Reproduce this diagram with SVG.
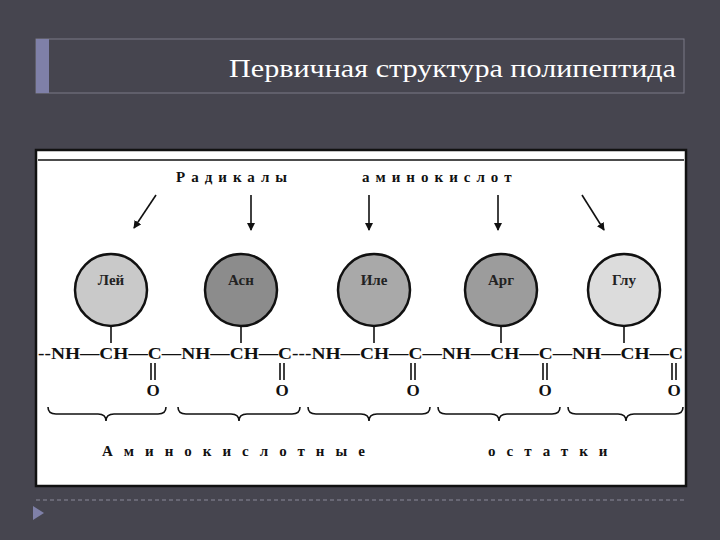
<svg xmlns="http://www.w3.org/2000/svg" width="720" height="540" viewBox="0 0 720 540">
<defs>
<marker id="ah" markerWidth="8" markerHeight="8" refX="7" refY="4" orient="auto" markerUnits="userSpaceOnUse"><path d="M0,0 L8,4 L0,8 Z" fill="#111"/></marker>
<style>
.t{font-family:"Liberation Serif",serif;font-weight:bold;fill:#111}
.c{stroke:#111;stroke-width:2.5}
.ln{stroke:#111;stroke-width:1.6;fill:none}
.lbl{font-family:"Liberation Serif",serif;font-weight:bold;font-size:15px;fill:#222;text-anchor:middle}
</style>
</defs>
<rect width="720" height="540" fill="#46454f"/>
<rect x="36" y="39" width="648" height="54" fill="none" stroke="#7a7a88" stroke-width="1"/>
<rect x="36" y="39" width="13" height="54" fill="#7f80a8"/>
<text x="676" y="77" text-anchor="end" font-family="Liberation Serif,serif" font-size="25" fill="#fff" textLength="447" lengthAdjust="spacingAndGlyphs">Первичная структура полипептида</text>
<rect x="36" y="150" width="650" height="336" fill="#fff" stroke="#111" stroke-width="2.5"/>
<line x1="38" y1="160" x2="684" y2="160" stroke="#111" stroke-width="1.5"/>
<text class="t" x="176" y="182" font-size="15" letter-spacing="6">Радикалы</text>
<text class="t" x="362" y="182" font-size="15" letter-spacing="6">аминокислот</text>
<g id="arrows" class="ln">
<line x1="156" y1="195" x2="134" y2="228" marker-end="url(#ah)"/>
<line x1="251" y1="195" x2="251" y2="230" marker-end="url(#ah)"/>
<line x1="369" y1="195" x2="369" y2="230" marker-end="url(#ah)"/>
<line x1="498" y1="195" x2="498" y2="230" marker-end="url(#ah)"/>
<line x1="582" y1="195" x2="604" y2="230" marker-end="url(#ah)"/>
</g>
<g id="n1"><line class="ln" x1="111" y1="326" x2="111" y2="343"/><circle class="c" cx="111" cy="290" r="36" fill="#c9c9c9"/><text class="lbl" x="111" y="285">Лей</text></g>
<g id="n2"><line class="ln" x1="241" y1="326" x2="241" y2="343"/><circle class="c" cx="241" cy="290" r="36" fill="#8c8c8c"/><text class="lbl" x="241" y="285">Асн</text></g>
<g id="n3"><line class="ln" x1="374" y1="326" x2="374" y2="343"/><circle class="c" cx="374" cy="290" r="36" fill="#a9a9a9"/><text class="lbl" x="374" y="285">Иле</text></g>
<g id="n4"><line class="ln" x1="501" y1="326" x2="501" y2="343"/><circle class="c" cx="501" cy="290" r="36" fill="#9c9c9c"/><text class="lbl" x="501" y="285">Арг</text></g>
<g id="n5"><line class="ln" x1="624" y1="326" x2="624" y2="343"/><circle class="c" cx="624" cy="290" r="36" fill="#dcdcdc"/><text class="lbl" x="624" y="285">Глу</text></g>
<g id="chain" class="t" font-size="17">
<text x="38" y="359" textLength="645" lengthAdjust="spacingAndGlyphs">--NH—CH—C—NH—CH—C---NH—CH—C—NH—CH—C—NH—CH—C</text>
</g>
<g id="carbonyl" class="ln">
<path d="M151,363 V380 M155,363 V380 M280,363 V380 M284,363 V380 M411,363 V380 M415,363 V380 M543,363 V380 M547,363 V380 M672,363 V380 M676,363 V380"/>
</g>
<g class="t" font-size="17" text-anchor="middle">
<text x="153" y="396">O</text><text x="282" y="396">O</text><text x="413" y="396">O</text><text x="545" y="396">O</text><text x="674" y="396">O</text>
</g>
<g id="braces" class="ln">
<path d="M48,407 Q48,414 56,414 H98 Q106,414 106,421 Q106,414 114,414 H158 Q166,414 166,407"/>
<path d="M178,407 Q178,414 186,414 H231 Q239,414 239,421 Q239,414 247,414 H292 Q300,414 300,407"/>
<path d="M308,407 Q308,414 316,414 H361 Q369,414 369,421 Q369,414 377,414 H422 Q430,414 430,407"/>
<path d="M438,407 Q438,414 446,414 H491 Q499,414 499,421 Q499,414 507,414 H552 Q560,414 560,407"/>
<path d="M568,407 Q568,414 576,414 H618 Q626,414 626,421 Q626,414 634,414 H675 Q683,414 683,407"/>
</g>
<text class="t" x="102" y="456" font-size="15" letter-spacing="11">Аминокислотные</text>
<text class="t" x="488" y="456" font-size="15" letter-spacing="11">остатки</text>
<line x1="36" y1="500" x2="686" y2="500" stroke="#8a8a9a" stroke-dasharray="4,3"/>
<path d="M33,506 L44,513 L33,520 Z" fill="#7f80a8"/>
</svg>
